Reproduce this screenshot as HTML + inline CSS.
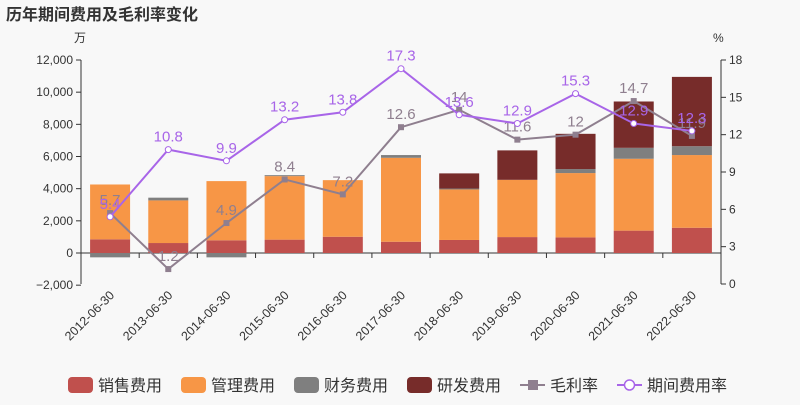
<!DOCTYPE html>
<html><head><meta charset="utf-8"><style>
body{margin:0;background:#f8f8f8;}
svg{font-family:"Liberation Sans","Noto Sans CJK SC",sans-serif;}
</style></head><body>
<svg id="c" width="800" height="400" xmlns="http://www.w3.org/2000/svg">
<rect width="800" height="400" fill="#f8f8f8"/>
<text x="6" y="20" font-size="16" font-weight="bold" fill="#333">历年期间费用及毛利率变化</text>
<text x="74" y="42" font-size="12" fill="#333">万</text>
<text x="713" y="42" font-size="12" fill="#333">%</text>
<g id="g"></g>
</svg>
<script>
const categories=["2012-06-30","2013-06-30","2014-06-30","2015-06-30","2016-06-30","2017-06-30","2018-06-30","2019-06-30","2020-06-30","2021-06-30","2022-06-30"];
const sales=[850,620,790,830,1010,700,810,990,970,1390,1570];
const mgmt=[3410,2650,3680,3950,3520,5220,3140,3560,4000,4470,4520];
const fin=[-270,170,-270,60,0,170,60,0,250,680,550];
const rd=[0,0,0,0,0,0,940,1830,2190,2880,4310];
const gross=[5.7,1.2,4.9,8.4,7.2,12.6,14,11.6,12,14.7,11.9];
const expRate=[5.4,10.8,9.9,13.2,13.8,17.3,13.6,12.9,15.3,12.9,12.3];
const leftTicks=[-2000,0,2000,4000,6000,8000,10000,12000];
const rightTicks=[0,3,6,9,12,15,18];
const NS="http://www.w3.org/2000/svg",g=document.getElementById('g');
const X0=81,X1=721,band=(X1-X0)/categories.length;
const yL=v=>253-v*(193/12000);
const yR=v=>284-v*(224/18);
const xC=i=>X0+band*(i+0.5);
function mk(t,a,txt){const e=document.createElementNS(NS,t);for(const k in a)e.setAttribute(k,a[k]);if(txt!=null)e.textContent=txt;g.appendChild(e);return e;}
leftTicks.forEach(v=>{
 const t=mk('text',{x:73,y:yL(v)+4,'font-size':12,fill:'#333','text-anchor':'end'},v.toLocaleString('en-US').replace('-','−'));
 
 
 mk('line',{x1:76,x2:81,y1:yL(v),y2:yL(v),stroke:'#333'});
});
rightTicks.forEach(v=>{
 const t=mk('text',{x:729,y:yR(v)+4,'font-size':12,fill:'#333'},v);
 
 
 mk('line',{x1:721,x2:726,y1:yR(v),y2:yR(v),stroke:'#333'});
});
mk('line',{x1:81,x2:81,y1:60,y2:284,stroke:'#333'});
mk('line',{x1:721,x2:721,y1:60,y2:284,stroke:'#333'});
mk('line',{x1:81,x2:721,y1:yL(0),y2:yL(0),stroke:'#333'});
categories.forEach((c,i)=>{
 mk('line',{x1:X0+band*i,x2:X0+band*i,y1:253,y2:258,stroke:'#333'});
 const x=xC(i)+5, y=296;
 const t=mk('text',{x:x,y:y,'font-size':12.5,fill:'#333','text-anchor':'end',transform:`rotate(-45 ${x} ${y})`},c);
 
 
});
const series=[[sales,'#c0504d','sales'],[mgmt,'#f79646','mgmt'],[fin,'#7f7f7f','finance'],[rd,'#772c2a','rd']];
const bw=40;
categories.forEach((c,i)=>{
 let pos=0,neg=0;
 series.forEach(([arr,col,nm])=>{
  const v=arr[i];if(!v)return;
  let y1,y2;
  if(v>0){y1=yL(pos+v);y2=yL(pos);pos+=v;}else{y1=yL(neg);y2=yL(neg+v);neg+=v;}
  const r=mk('rect',{x:xC(i)-bw/2,y:y1,width:bw,height:y2-y1,fill:col});
  
  
 });
});
function line(arr,col,nm,filledPt){
 const p=mk('polyline',{points:arr.map((v,i)=>xC(i)+','+yR(v)).join(' '),fill:'none',stroke:col,'stroke-width':2});
 
 
 arr.forEach((v,i)=>{
  let m;
  if(filledPt)m=mk('rect',{x:xC(i)-3,y:yR(v)-3,width:6,height:6,fill:col});
  else m=mk('circle',{cx:xC(i),cy:yR(v),r:3,fill:'#fff',stroke:col,'stroke-width':1});
  
  
  const t=mk('text',{x:xC(i),y:yR(v)-8,'font-size':15,fill:col,'text-anchor':'middle'},v);
  
  
 });
}
line(gross,'#8f7f8f','gross-margin',true);
line(expRate,'#a865e8','expense-rate',false);
const leg=[['销售费用','#c0504d','rect'],['管理费用','#f79646','rect'],['财务费用','#7f7f7f','rect'],['研发费用','#772c2a','rect'],['毛利率','#8f7f8f','line'],['期间费用率','#a865e8','circ']];
const lx=[68,181,294,407,520,617];
leg.forEach(([n,col,type],k)=>{
 const x=lx[k],y=385;
 if(type==='rect'){const r=mk('rect',{x:x,y:y-8,width:25,height:16,rx:4,fill:col});}
 else{mk('line',{x1:x,x2:x+25,y1:y,y2:y,stroke:col,'stroke-width':2});
  const m=type==='line'?mk('rect',{x:x+8,y:y-5,width:10,height:10,fill:col}):mk('circle',{cx:x+12.5,cy:y,r:5,fill:'#fff',stroke:col,'stroke-width':1.5});
  }
 const t=mk('text',{x:x+30,y:y+6,'font-size':16,fill:'#333'},n);
 
 
});
</script>
</body></html>
